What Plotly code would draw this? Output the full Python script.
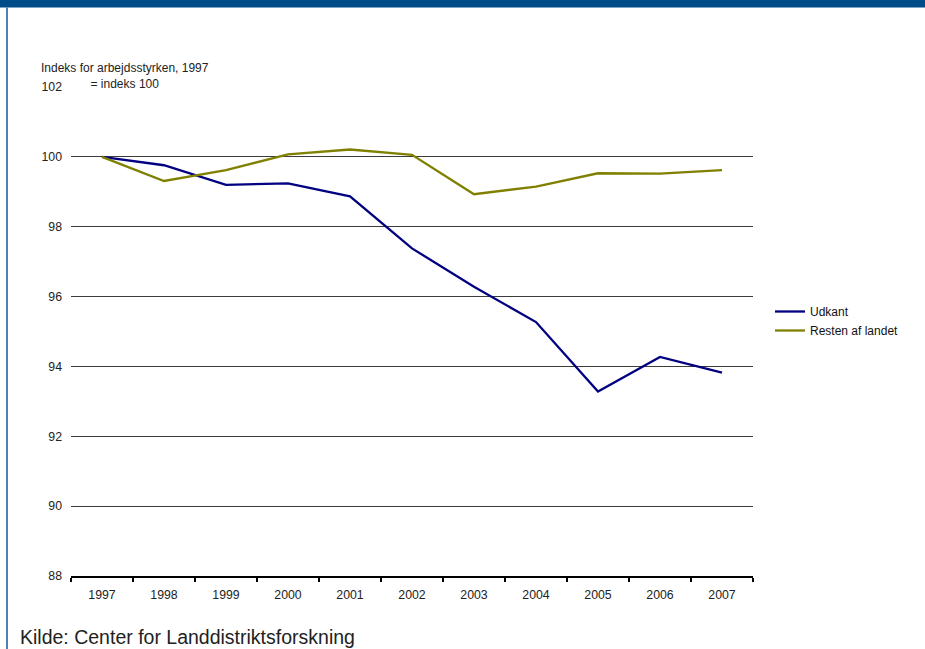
import plotly.graph_objects as go

years = [1997, 1998, 1999, 2000, 2001, 2002, 2003, 2004, 2005, 2006, 2007]
udkant = [100.0, 99.76, 99.20, 99.24, 98.87, 97.38, 96.28, 95.27, 93.28, 94.27, 93.82]
resten = [100.0, 99.31, 99.62, 100.07, 100.21, 100.06, 98.93, 99.15, 99.53, 99.52, 99.62]
series_names = ["Udkant", "Resten af landet"]
y_ticks = [88, 90, 92, 94, 96, 98, 100, 102]
y_title = "Indeks for arbejdsstyrken, 1997<br>= indeks 100"
source = "Kilde: Center for Landdistriktsforskning"

W, H = 925, 649
L, R, T, B = 71, 753, 87, 576  # plot area pixels

def px(xp):
    return (xp - L) / (R - L)

def py(yp):
    return (B - yp) / (B - T)

FONT = "Liberation Sans, Arial, sans-serif"
boundaries = [y - 0.5 for y in years] + [years[-1] + 0.5]

fig = go.Figure()
fig.add_trace(go.Scatter(x=years, y=udkant, mode="lines", name=series_names[0],
                         line=dict(color="#000080", width=2.3)))
fig.add_trace(go.Scatter(x=years, y=resten, mode="lines", name=series_names[1],
                         line=dict(color="#808000", width=2.3)))

fig.update_layout(
    width=W, height=H,
    margin=dict(l=L, r=W - R, t=T, b=H - B, pad=0),
    paper_bgcolor="white", plot_bgcolor="white",
    font=dict(family=FONT, size=12, color="#222222"),
    showlegend=True,
    legend=dict(x=px(770), y=py(297), xanchor="left", yanchor="top",
                font=dict(size=12, color="#111111"), bgcolor="rgba(0,0,0,0)",
                tracegroupgap=0, itemwidth=30),
    xaxis=dict(
        type="linear", range=[years[0] - 0.5, years[-1] + 0.5],
        tickmode="array", tickvals=years, ticktext=[str(y) for y in years],
        ticks="", showgrid=False, zeroline=False,
        showline=True, linecolor="black", linewidth=2,
        tickfont=dict(size=12.3, color="#222222"), ticklabelstandoff=6,
        minor=dict(tickmode="array", tickvals=boundaries, ticks="outside",
                   ticklen=4, tickwidth=2, tickcolor="black", showgrid=False),
    ),
    xaxis2=dict(
        type="linear", range=[years[0] - 0.5, years[-1] + 0.5], overlaying="x",
        anchor="y", side="bottom",
        tickmode="array", tickvals=boundaries, ticks="inside", ticklen=4,
        tickwidth=2, tickcolor="black", showticklabels=False,
        showgrid=False, zeroline=False, showline=False,
    ),
    yaxis=dict(
        range=[88, 102], tickmode="array", tickvals=y_ticks,
        ticks="", showgrid=True, gridcolor="#3c3c3c", gridwidth=1,
        zeroline=False, showline=False,
        tickfont=dict(size=12.3, color="#222222"), ticklabelstandoff=8,
    ),
)

# header band and left frame line
fig.add_shape(type="rect", xref="paper", yref="paper",
              x0=px(-5), x1=px(W + 5), y0=py(7.5), y1=py(-5),
              fillcolor="#004C89", line=dict(width=0), layer="above")
fig.add_shape(type="line", xref="paper", yref="paper",
              x0=px(7), x1=px(7), y0=py(7.5), y1=py(H + 5),
              line=dict(color="#4F7FB3", width=2), layer="above")

fig.add_annotation(text=y_title, xref="paper", yref="paper",
                   x=px(125), y=py(75.5), xanchor="center", yanchor="middle",
                   showarrow=False, align="center",
                   font=dict(size=12, color="#222222"))
fig.add_annotation(text=source, xref="paper", yref="paper",
                   x=px(18), y=py(636.5), xanchor="left", yanchor="middle",
                   showarrow=False, align="left",
                   font=dict(size=19.5, color="#222222"))

fig.write_html("out.html", config={"displayModeBar": False},
               post_script="document.body.style.margin='0';document.body.style.overflow='hidden';")
